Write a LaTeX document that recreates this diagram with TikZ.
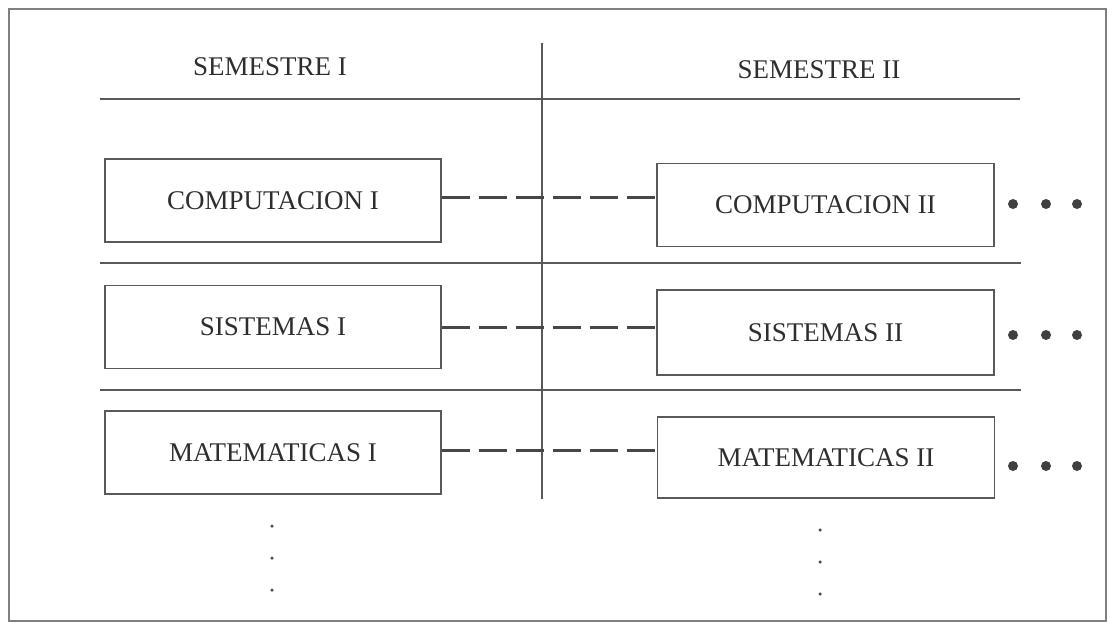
\documentclass[tikz,border=0pt]{standalone}
\usepackage{fontspec}
\setmainfont{Liberation Serif}
\begin{document}
\begin{tikzpicture}[x=1pt,y=-1pt,
  every node/.style={font=\fontsize{27}{31}\selectfont, text=black!82},
  course/.style={draw=black!65, line width=1.3pt, minimum width=336pt, minimum height=83pt, inner sep=0pt},
  rule/.style={draw=black!65, line width=1.3pt},
  link/.style={draw=black!72, line width=3pt, dash pattern=on 28pt off 9pt},
  bigdot/.style={circle, fill=black!75, minimum size=10pt, inner sep=0pt},
  smalldot/.style={circle, fill=black!70, minimum size=3.5pt, inner sep=0pt}]
\useasboundingbox (0,0) rectangle (1109,623);
% outer frame
\draw[draw=black!50, line width=1.2pt] (9,9) rectangle (1106,621);

% column headings
\node (h1) at (270,67) {SEMESTRE I};
\node (h2) at (819,70) {SEMESTRE II};

% rules between rows and the column divider
\coordinate (hl) at (100,99);  \coordinate (hr) at (1020,99);
\coordinate (s1l) at (100,263); \coordinate (s1r) at (1021,263);
\coordinate (s2l) at (100,390); \coordinate (s2r) at (1021,390);
\coordinate (vt) at (542,43);  \coordinate (vb) at (542,499);
\draw[rule] (hl) -- (hr);
\draw[rule] (s1l) -- (s1r);
\draw[rule] (s2l) -- (s2r);
\draw[rule] (vt) -- (vb);

% first semester courses
\node[course] (l1) at (273,200.5) {COMPUTACION I};
\node[course] (l2) at (273,327) {SISTEMAS I};
\node[course] (l3) at (273,452.5) {MATEMATICAS I};

% second semester courses
\node[course, minimum width=337pt] (r1) at (825.5,205) {COMPUTACION II};
\node[course, minimum width=337pt, minimum height=85pt] (r2) at (825.5,332.5) {SISTEMAS II};
\node[course, minimum width=337pt, minimum height=81pt] (r3) at (826,457.5) {MATEMATICAS II};

% links between consecutive courses
\draw[link] ([yshift=2.5pt]l1.east) -- ([yshift=2.5pt]l1.east -| r1.west);
\draw[link] ([yshift=0pt]l2.east) -- ([yshift=0pt]l2.east -| r2.west);
\draw[link] ([yshift=2.5pt]l3.east) -- ([yshift=2.5pt]l3.east -| r3.west);

% continuation marks to the right
\foreach \y [count=\r] in {204,335,466}{
  \foreach \x [count=\c] in {1013,1046,1077}
    \node[bigdot] (d\r\c) at (\x,\y) {};
}

% continuation marks below
\foreach \y [count=\k] in {526,558,590}{
  \node[smalldot] (vl\k) at (272,\y) {};
  \node[smalldot] (vr\k) at (820,\y+4) {};
}
\end{tikzpicture}
\end{document}
